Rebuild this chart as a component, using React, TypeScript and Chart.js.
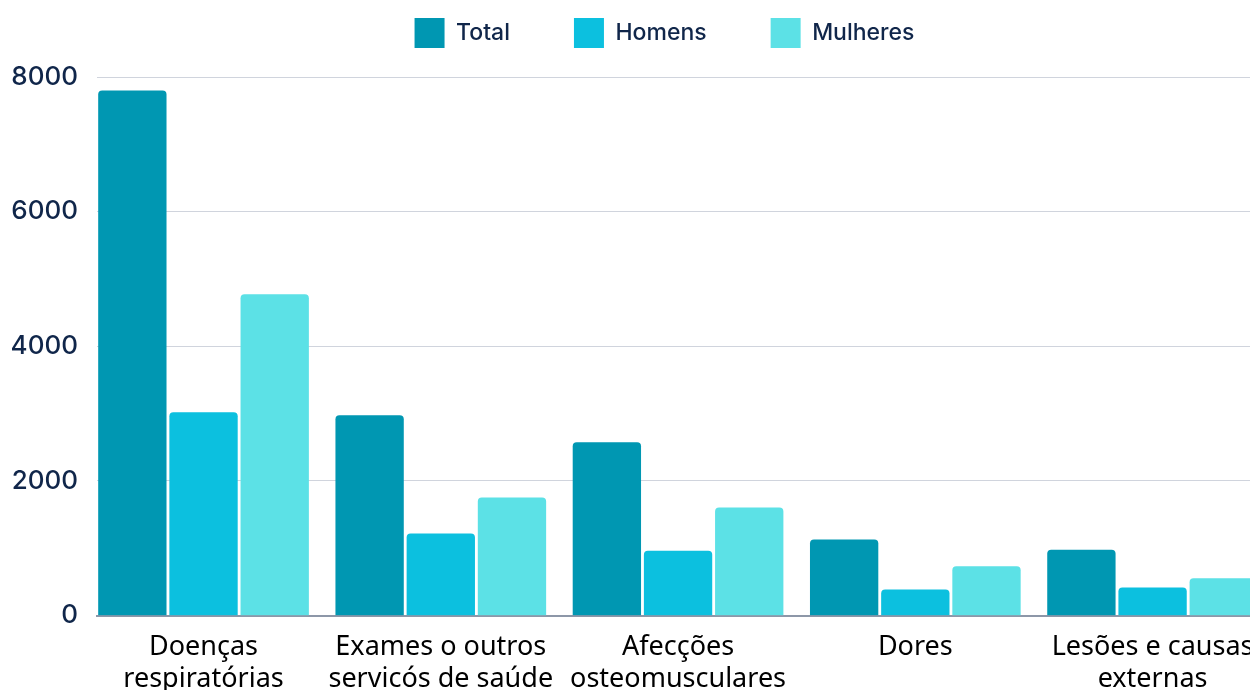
import React, { useEffect, useRef } from "react";
import { Chart, registerables } from "chart.js";

Chart.register(...registerables);

const categories: string[][] = [
  ["Doenças", "respiratórias"],
  ["Exames o outros", "servicós de saúde"],
  ["Afecções", "osteomusculares"],
  ["Dores"],
  ["Lesões e causas", "externas"],
];
const seriesNames = ["Total", "Homens", "Mulheres"];
const totalValues = [7800, 2975, 2575, 1130, 980];
const homensValues = [3020, 1220, 965, 390, 420];
const mulheresValues = [4775, 1755, 1605, 735, 555];
const yTicks = [0, 2000, 4000, 6000, 8000];
const colors = ["#0097b2", "#0cc0df", "#5ce1e6"];

const navy = "#10264a";

const legendSpacer = {
  id: "legendSpacer",
  beforeInit(chart: any) {
    const legend = chart.legend;
    if (!legend) return;
    const origFit = legend.fit;
    legend.fit = function () {
      origFit.call(this);
      this.height += 19;
    };
  },
};

export default function App() {
  const ref = useRef<HTMLCanvasElement | null>(null);
  useEffect(() => {
    if (!ref.current) return;
    const series = [totalValues, homensValues, mulheresValues];
    const chart = new Chart(ref.current, {
      type: "bar",
      data: {
        datasets: series.map((vals, si) => ({
          label: seriesNames[si],
          data: vals.map((v, i) => ({ x: i, y: v })),
          backgroundColor: colors[si],
          borderRadius: 4,
          borderSkipped: "bottom",
          categoryPercentage: 0.9,
          barPercentage: 0.96,
        })),
      },
      plugins: [legendSpacer],
      options: {
        responsive: false,
        animation: false,
        layout: { padding: { left: 12, top: -46, right: 78, bottom: 4 } },
        plugins: {
          tooltip: { enabled: false },
          legend: {
            position: "top",
            labels: {
              boxWidth: 30,
              boxHeight: 30,
              padding: 64,
              color: navy,
              font: { family: "Inter", size: 23, weight: 500 },
            },
          },
        },
        scales: {
          x: {
            type: "linear",
            offset: false,
            min: -0.449,
            max: 4.693,
            grid: { display: false, offset: false },
            border: { display: true, color: "#8d97a8", width: 2 },
            afterBuildTicks: (axis: any) => {
              axis.ticks = categories.map((_, i) => ({ value: i }));
            },
            ticks: {
              autoSkip: false,
              maxRotation: 0,
              padding: 7,
              color: "#000000",
              font: { family: "Noto Sans", size: 27, lineHeight: 1.21 },
              callback: (value: any) => categories[Number(value)],
            },
          },
          y: {
            min: 0,
            max: 8000,
            afterFit: (scale: any) => {
              scale.width = 85;
            },
            afterBuildTicks: (axis: any) => {
              axis.ticks = yTicks.map((v) => ({ value: v }));
            },
            grid: { color: "#d0d4dd", lineWidth: 1, drawTicks: false },
            border: { display: false },
            ticks: {
              padding: 19,
              color: navy,
              font: { family: "Inter", size: 26, weight: 500 },
              callback: (value: any) => String(value),
            },
          },
        },
      },
    });
    return () => chart.destroy();
  }, []);
  return (
    <div
      style={{
        position: "fixed",
        left: 0,
        top: 0,
        width: 1250,
        height: 690,
        overflow: "hidden",
        background: "#ffffff",
      }}
    >
      <canvas ref={ref} width={1395} height={707} style={{ display: "block" }} />
    </div>
  );
}
